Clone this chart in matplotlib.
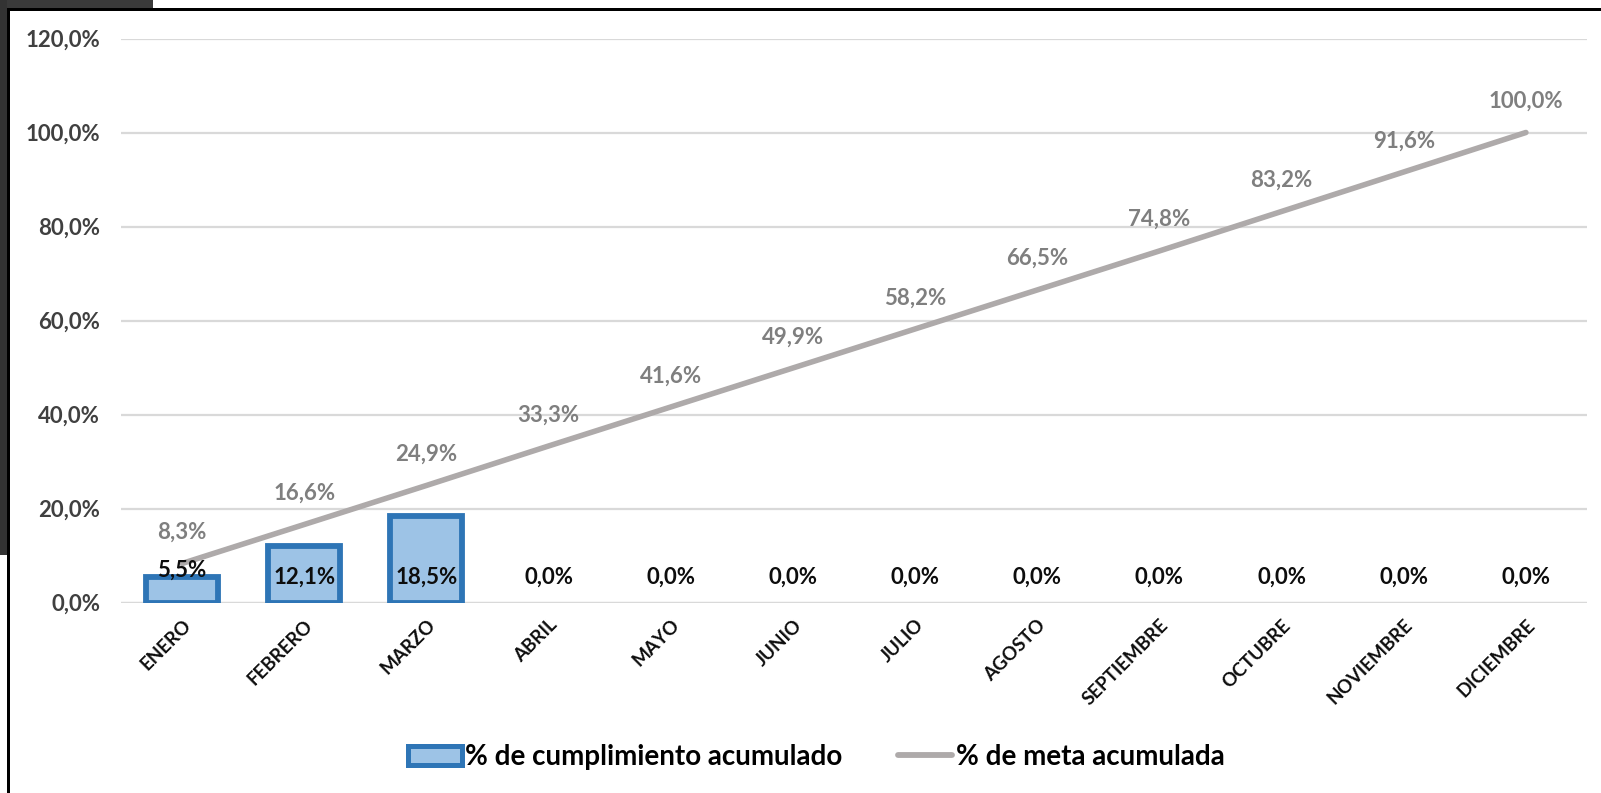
import matplotlib
matplotlib.use("Agg")
import matplotlib.pyplot as plt
import numpy as np
from matplotlib.patches import Patch, Rectangle
from matplotlib.lines import Line2D
from matplotlib.transforms import ScaledTranslation

# datos del grafico
meses = ['ENERO', 'FEBRERO', 'MARZO', 'ABRIL', 'MAYO', 'JUNIO', 'JULIO',
         'AGOSTO', 'SEPTIEMBRE', 'OCTUBRE', 'NOVIEMBRE', 'DICIEMBRE']
cumplimiento = [0.055, 0.121, 0.185, 0, 0, 0, 0, 0, 0, 0, 0, 0]
meta = [0.083, 0.166, 0.249, 0.333, 0.416, 0.499, 0.582, 0.665, 0.748, 0.832, 0.916, 1.0]
yticks = [0, 0.2, 0.4, 0.6, 0.8, 1.0, 1.2]

plt.rcParams['font.family'] = ['Lato', 'DejaVu Sans']

W, H = 1601, 793
fig = plt.figure(figsize=(W / 100, H / 100), dpi=100)
fig.patch.set_facecolor('white')

def fx(px):
    return px / W

def fy(py):
    return 1 - py / H

ax = fig.add_axes([fx(121), fy(602.5), fx(1587) - fx(121), fy(38.5) - fy(602.5)])

x = np.arange(len(meses))
# las barras en cero no se ven en el original
anchos = [4.2 if v > 0 else 0 for v in cumplimiento]
ax.bar(x, cumplimiento, width=0.59, color='#9DC3E6', edgecolor='#2E75B6',
       linewidth=anchos, zorder=3)
ax.plot(x, meta, color='#AEAAAA', linewidth=4.0, solid_capstyle='round', zorder=4)

def fmt(v):
    return f'{v * 100:.1f}%'.replace('.', ',')

# etiquetas de la meta
for i, v in enumerate(meta):
    ax.annotate(fmt(v), (i, v), xytext=(0, 22.5), textcoords='offset points',
                ha='center', va='center', fontsize=16, fontweight='bold',
                color='#7F7F7F', zorder=5)

# etiquetas de las barras
for i, v in enumerate(cumplimiento):
    if 0 < v < 0.1:
        yl = v + 0.014
    else:
        yl = 0.053
    ax.text(i, yl, fmt(v), ha='center', va='center', fontsize=16,
            fontweight='bold', color='#0D0D0D', zorder=6)

ax.set_xlim(-0.5, len(meses) - 0.5)
ax.set_ylim(0, 1.2)
ax.set_yticks(yticks)
ax.set_yticklabels([fmt(t) for t in yticks])
ax.set_xticks(x)
ax.set_xticklabels(meses, rotation=45, ha='right', va='top', rotation_mode='anchor')
for lbl in ax.get_xticklabels():
    lbl.set_fontsize(13.5)
    lbl.set_fontweight('bold')
    lbl.set_color('#0D0D0D')
    lbl.set_transform(lbl.get_transform() + ScaledTranslation(0.07, 0, fig.dpi_scale_trans))
for lbl in ax.get_yticklabels():
    lbl.set_fontsize(16)
    lbl.set_fontweight('bold')
    lbl.set_color('#404040')

ax.tick_params(axis='x', length=0, pad=10)
ax.tick_params(axis='y', length=0, pad=15)
ax.grid(axis='y', color='#D9D9D9', linewidth=1.6, zorder=0)
ax.set_axisbelow(True)
for s in ax.spines.values():
    s.set_visible(False)
ax.axhline(0, color='#D9D9D9', linewidth=1.6, zorder=2)

handles = [Patch(facecolor='#9DC3E6', edgecolor='#2E75B6', linewidth=3.6),
           Line2D([0], [0], color='#AEAAAA', linewidth=4.2, solid_capstyle='round')]
fig.legend(handles, ['% de cumplimiento acumulado', '% de meta acumulada'],
           loc='center', bbox_to_anchor=(fx(816), fy(757)), ncol=2, frameon=False,
           prop={'size': 20, 'weight': 'bold'},
           handlelength=1.95, handleheight=0.65,
           handletextpad=0.12, columnspacing=2.0)

# bordes de la captura
fig.patches.append(Rectangle((0, fy(8)), fx(153), 1 - fy(8), transform=fig.transFigure,
                             facecolor='#3A3A3A', edgecolor='none', zorder=0))
fig.patches.append(Rectangle((0, fy(555)), fx(7), fy(0) - fy(555), transform=fig.transFigure,
                             facecolor='#333333', edgecolor='none', zorder=0))
fig.patches.append(Rectangle((fx(7), 0), fx(3), fy(8), transform=fig.transFigure,
                             facecolor='black', edgecolor='none', zorder=1))
fig.patches.append(Rectangle((fx(7), fy(11)), 1 - fx(7), fy(8) - fy(11), transform=fig.transFigure,
                             facecolor='black', edgecolor='none', zorder=1))

fig.savefig('out.png', dpi=100)
